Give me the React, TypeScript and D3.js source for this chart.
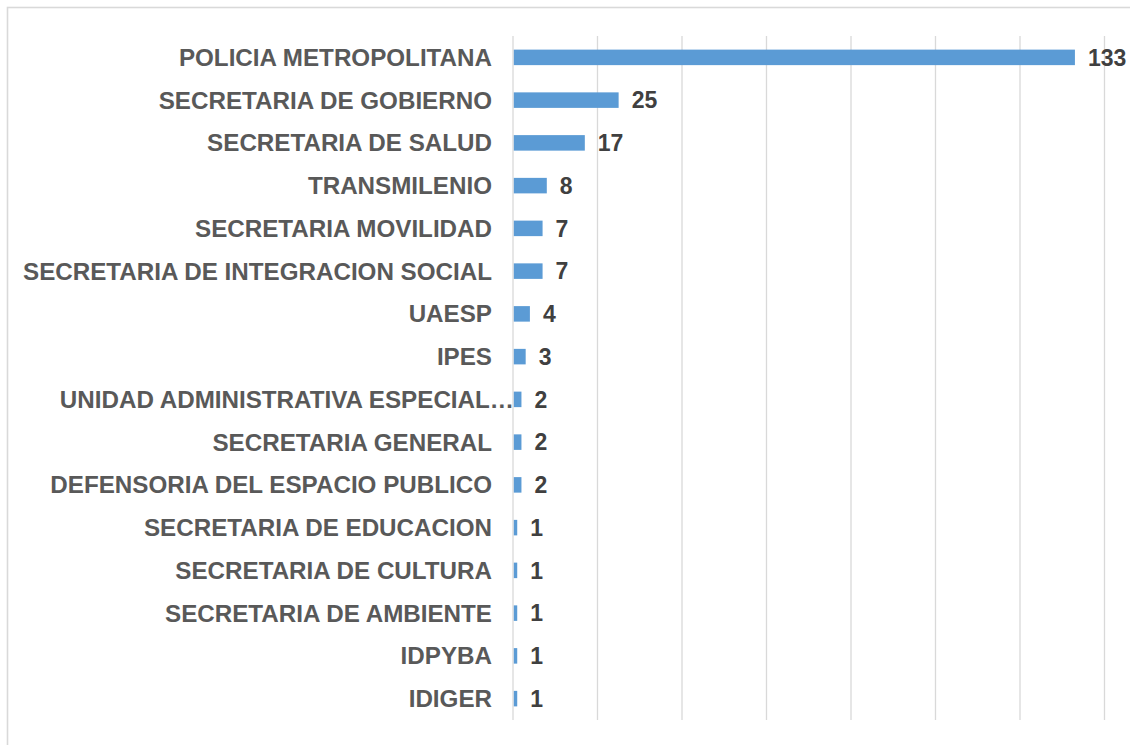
import React from "react";
import * as d3 from "d3";

const categories: string[] = [
  "POLICIA METROPOLITANA",
  "SECRETARIA DE GOBIERNO",
  "SECRETARIA DE SALUD",
  "TRANSMILENIO",
  "SECRETARIA MOVILIDAD",
  "SECRETARIA DE INTEGRACION SOCIAL",
  "UAESP",
  "IPES",
  "UNIDAD ADMINISTRATIVA ESPECIAL…",
  "SECRETARIA GENERAL",
  "DEFENSORIA DEL ESPACIO PUBLICO",
  "SECRETARIA DE EDUCACION",
  "SECRETARIA DE CULTURA",
  "SECRETARIA DE AMBIENTE",
  "IDPYBA",
  "IDIGER",
];
const values: number[] = [133, 25, 17, 8, 7, 7, 4, 3, 2, 2, 2, 1, 1, 1, 1, 1];
const xTicks: number[] = [0, 20, 40, 60, 80, 100, 120, 140];

const W = 1130;
const H = 745;
const FONT = "'Liberation Sans', Arial, sans-serif";

export default function App() {
  const x = d3.scaleLinear().domain([0, 140]).range([513, 1104.5]);
  const y = d3
    .scaleBand<string>()
    .domain(categories)
    .range([36, 720])
    .paddingInner(0.637)
    .paddingOuter(0.3185);

  return (
    <div style={{ position: "fixed", left: 0, top: 0 }}>
      <svg width={W} height={H} style={{ display: "block", background: "#fff" }}>
        <rect x={7.5} y={7.5} width={1300} height={900} fill="#fff" stroke="#d9d9d9" strokeWidth={1.6} />
        {xTicks.map((t) => (
          <line key={t} x1={x(t)} x2={x(t)} y1={36} y2={720} stroke="#d9d9d9" strokeWidth={1.3} />
        ))}
        {categories.map((c, i) => {
          const yy = y(c)!;
          const bw = y.bandwidth();
          const cy = yy + bw / 2;
          const truncated = c.endsWith("…");
          return (
            <g key={c}>
              <rect x={x(0) + 0.8} y={yy} width={Math.max(0, x(values[i]) - x(0) - 0.8)} height={bw} fill="#5b9bd5" />
              <text
                x={truncated ? x(0) + 1 : x(0) - 21}
                y={cy}
                dy="0.35em"
                textAnchor="end"
                fontFamily={FONT}
                fontWeight="bold"
                fontSize={24.2}
                fill="#595959"
              >
                {c}
              </text>
              <text
                x={x(values[i]) + 13}
                y={cy}
                dy="0.36em"
                textAnchor="start"
                fontFamily={FONT}
                fontWeight="bold"
                fontSize={23}
                fill="#404040"
              >
                {values[i]}
              </text>
            </g>
          );
        })}
      </svg>
    </div>
  );
}
